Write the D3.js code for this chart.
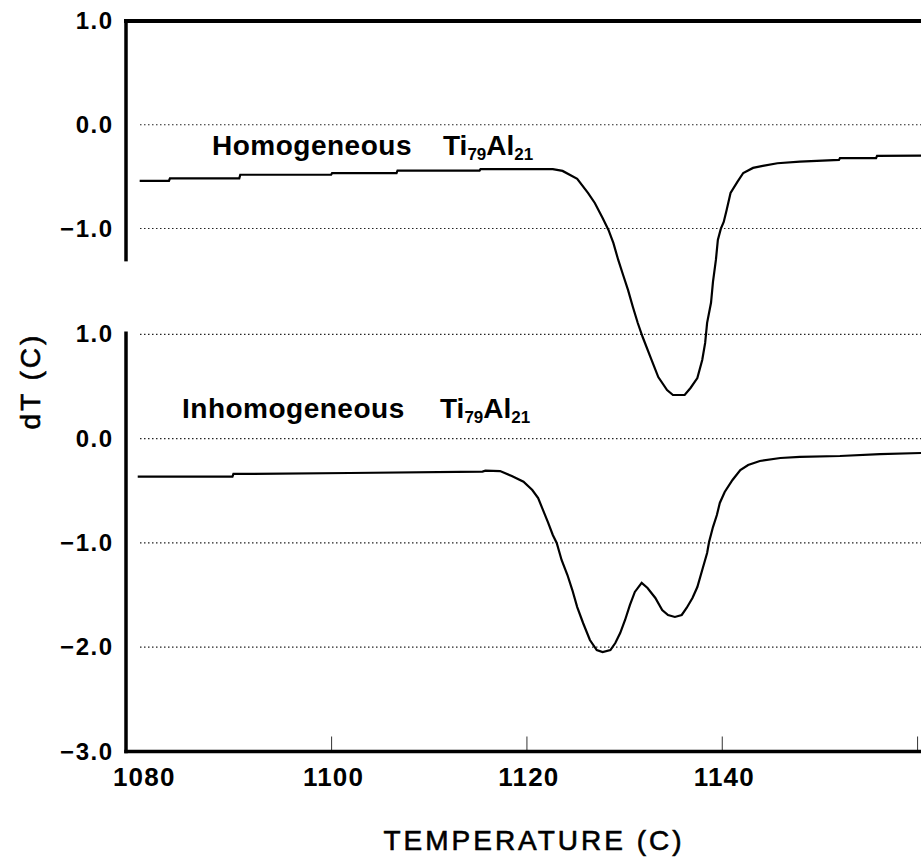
<!DOCTYPE html>
<html>
<head>
<meta charset="utf-8">
<script src="https://cdn.jsdelivr.net/npm/d3@7"></script>
<style>
  html, body { margin: 0; padding: 0; background: #fff; }
  svg { display: block; font-family: "Liberation Sans", Arial, sans-serif; }
</style>
</head>
<body>
<div id="chart"></div>
<script>
// --------------------
// 1) DATA (read off the DTA plot)
// --------------------
const xTicks = [1080, 1100, 1120, 1140, 1160];
const xLabelled = [1080, 1100, 1120, 1140];
const upperTicks = [-1, 0, 1];
const lowerTicks = [-3, -2, -1, 0, 1];
const upperGrid = [0, -1];
const lowerGrid = [1, 0, -1, -2];

// homogeneous Ti79Al21 (upper panel)
const homTemp = [1080.4, 1083.4, 1083.5, 1090.6, 1090.7, 1100.0, 1100.1, 1106.7, 1106.8, 1115.2,
  1115.3, 1122.7, 1123.7, 1125.2, 1126.3, 1127.0, 1127.8, 1128.4, 1128.9, 1129.4,
  1129.9, 1130.4, 1130.9, 1131.4, 1131.9, 1132.7, 1133.5, 1134.4, 1135.0, 1136.2,
  1136.8, 1137.5, 1138.0, 1138.3, 1138.5, 1138.9, 1139.1, 1139.4, 1139.6, 1139.9,
  1140.2, 1140.5, 1140.9, 1141.6, 1142.2, 1143.2, 1144.2, 1145.7, 1148.0, 1152.0,
  1152.1, 1155.8, 1155.9, 1160.4];
const homDT = [-0.54, -0.54, -0.516, -0.516, -0.482, -0.482, -0.466, -0.466, -0.442, -0.442,
  -0.427, -0.427, -0.445, -0.522, -0.657, -0.754, -0.899, -1.014, -1.139, -1.303,
  -1.448, -1.592, -1.756, -1.911, -2.046, -2.239, -2.432, -2.557, -2.605, -2.605,
  -2.537, -2.441, -2.267, -2.103, -1.91, -1.716, -1.515, -1.303, -1.11, -1.004,
  -0.937, -0.821, -0.657, -0.551, -0.465, -0.416, -0.397, -0.371, -0.356, -0.339,
  -0.322, -0.322, -0.300, -0.298];

// inhomogeneous Ti79Al21 (lower panel)
const inhomTemp = [1080.2, 1089.9, 1090.0, 1101.9, 1115.5, 1115.8, 1117.3, 1118.5, 1119.7, 1120.6,
  1121.2, 1121.7, 1122.2, 1122.7, 1123.1, 1123.6, 1124.2, 1124.7, 1125.2, 1125.8,
  1126.5, 1127.2, 1127.8, 1128.6, 1129.1, 1129.6, 1130.1, 1130.6, 1131.1, 1131.8,
  1132.4, 1133.2, 1133.9, 1134.5, 1135.2, 1135.9, 1136.4, 1137.0, 1137.5, 1138.0,
  1138.5, 1138.7, 1139.1, 1139.5, 1139.8, 1140.3, 1141.1, 1141.9, 1142.7, 1143.9,
  1146.0, 1148.0, 1152.1, 1156.2, 1160.4];
const inhomDT = [-0.365, -0.365, -0.339, -0.33, -0.317, -0.308, -0.311, -0.359, -0.413, -0.493,
  -0.57, -0.685, -0.8, -0.924, -1.001, -1.164, -1.308, -1.452, -1.615, -1.768,
  -1.931, -2.027, -2.046, -2.027, -1.96, -1.864, -1.739, -1.595, -1.47, -1.384,
  -1.432, -1.528, -1.643, -1.691, -1.71, -1.691, -1.624, -1.528, -1.423, -1.26,
  -1.097, -0.992, -0.848, -0.733, -0.617, -0.512, -0.397, -0.301, -0.253, -0.215,
  -0.186, -0.176, -0.167, -0.148, -0.138];

// ----------------------
// 2) BASIC SETUP
// ----------------------
const width = 921;
const height = 859;
const left = 126;

const svg = d3.select("#chart")
  .append("svg")
  .attr("width", width)
  .attr("height", height);

const x = d3.scaleLinear().domain([1079, 1160.4]).range([left, width]);
const yUpper = d3.scaleLinear().domain([-1, 1]).range([228.5, 21]);
const yLower = d3.scaleLinear().domain([-3, 1]).range([751.5, 334.3]);

const fmt = d3.format(".1f");

// ---------------------------
// 3) DOTTED GRID LINES
// ---------------------------
function grid(values, y) {
  svg.append("g")
    .selectAll("line")
    .data(values)
    .enter()
    .append("line")
    .attr("x1", 140)
    .attr("x2", width)
    .attr("y1", d => y(d))
    .attr("y2", d => y(d))
    .attr("stroke", "#222")
    .attr("stroke-width", 1.2)
    .attr("stroke-dasharray", "1.5,2.5");
}
grid(upperGrid, yUpper);
grid(lowerGrid, yLower);

// ---------------------------
// 4) AXES
// ---------------------------
function leftAxis(scale, ticks) {
  const g = svg.append("g")
    .attr("transform", `translate(${left},0)`)
    .call(d3.axisLeft(scale).tickValues(ticks).tickFormat(fmt).tickSize(0).tickPadding(14));
  g.select(".domain").remove();
  g.selectAll("text")
    .attr("fill", "#000")
    .attr("font-size", 24)
    .attr("font-weight", "bold")
    .attr("letter-spacing", 1.5)
    .attr("dx", 1.5)
    .attr("font-family", "Liberation Sans, Arial, sans-serif");
}
leftAxis(yUpper, upperTicks);
leftAxis(yLower, lowerTicks);

const xAxis = svg.append("g")
  .attr("transform", `translate(0,${yLower(-3)})`)
  .call(d3.axisBottom(x).tickValues(xTicks)
    .tickFormat(d => xLabelled.includes(d) ? d3.format("d")(d) : "")
    .tickSizeInner(-15).tickSizeOuter(0).tickPadding(16));
xAxis.select(".domain").remove();
xAxis.selectAll(".tick line")
  .attr("stroke", "#333")
  .attr("stroke-width", 1)
  .filter(d => d === 1080).remove();
xAxis.selectAll("text")
  .attr("fill", "#000")
  .attr("font-size", 26)
  .attr("font-weight", "bold")
  .attr("letter-spacing", 1.2)
  .attr("dx", d => d === 1080 ? 8 : 2)
  .attr("font-family", "Liberation Sans, Arial, sans-serif");

// heavy frame lines
const frame = svg.append("g").attr("stroke", "#000").attr("stroke-linecap", "square");
frame.append("line")
  .attr("x1", left).attr("x2", width)
  .attr("y1", yUpper(1)).attr("y2", yUpper(1))
  .attr("stroke-width", 4);
frame.append("line")
  .attr("x1", left).attr("x2", left)
  .attr("y1", yUpper(1)).attr("y2", yUpper(-1.3))
  .attr("stroke-width", 3.5);
frame.append("line")
  .attr("x1", left).attr("x2", left)
  .attr("y1", yLower(1.01)).attr("y2", yLower(-3))
  .attr("stroke-width", 3.5);
frame.append("line")
  .attr("x1", left).attr("x2", width)
  .attr("y1", yLower(-3)).attr("y2", yLower(-3))
  .attr("stroke-width", 3.5);

// ---------------------------
// 5) CURVES
// ---------------------------
const hom = homTemp.map((t, i) => [t, homDT[i]]);
const inhom = inhomTemp.map((t, i) => [t, inhomDT[i]]);

svg.append("path")
  .datum(hom)
  .attr("fill", "none")
  .attr("stroke", "#000")
  .attr("stroke-width", 2.2)
  .attr("d", d3.line().x(d => x(d[0])).y(d => yUpper(d[1])));

svg.append("path")
  .datum(inhom)
  .attr("fill", "none")
  .attr("stroke", "#000")
  .attr("stroke-width", 2.2)
  .attr("d", d3.line().x(d => x(d[0])).y(d => yLower(d[1])));

// ---------------------------
// 6) LABELS
// ---------------------------
function sampleLabel(name, xName, xFormula, yBase) {
  svg.append("text")
    .attr("x", xName)
    .attr("y", yBase)
    .attr("font-size", 28)
    .attr("font-weight", "bold")
    .attr("letter-spacing", 0.5)
    .text(name);

  const t = svg.append("text")
    .attr("x", xFormula)
    .attr("y", yBase)
    .attr("font-size", 28)
    .attr("font-weight", "bold");
  t.append("tspan").text("Ti");
  t.append("tspan").attr("font-size", 17).attr("dy", 5).text("79");
  t.append("tspan").attr("dy", -5).text("Al");
  t.append("tspan").attr("font-size", 17).attr("dy", 5).text("21");
}
sampleLabel("Homogeneous", 212, 443, 155);
sampleLabel("Inhomogeneous", 182, 440, 418);

svg.append("text")
  .attr("transform", "translate(40,381) rotate(-90)")
  .attr("text-anchor", "middle")
  .attr("font-size", 28)
  .attr("letter-spacing", 3)
  .attr("stroke", "#000")
  .attr("stroke-width", 0.6)
  .text("dT (C)");

svg.append("text")
  .attr("x", 534)
  .attr("y", 850)
  .attr("text-anchor", "middle")
  .attr("font-size", 28)
  .attr("letter-spacing", 3)
  .attr("stroke", "#000")
  .attr("stroke-width", 0.6)
  .text("TEMPERATURE (C)");
</script>
</body>
</html>
